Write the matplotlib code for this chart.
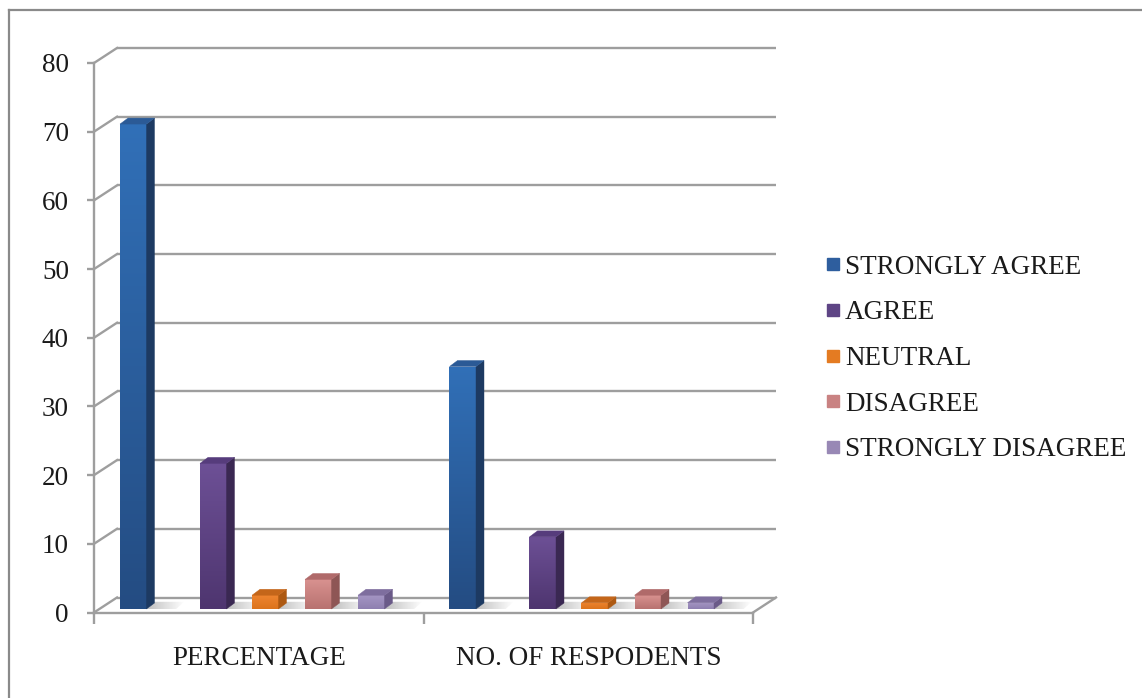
import numpy as np
import matplotlib
matplotlib.use("Agg")
import matplotlib.pyplot as plt
from matplotlib.patches import Polygon, Rectangle
from matplotlib.lines import Line2D
from matplotlib.colors import to_rgb

# ---- data -------------------------------------------------------------
categories = ["PERCENTAGE", "NO. OF RESPODENTS"]
series_names = ["STRONGLY AGREE", "AGREE", "NEUTRAL", "DISAGREE", "STRONGLY DISAGREE"]
percentage = [70.6, 21.2, 2.0, 4.3, 2.0]
respondents = [35.3, 10.5, 0.9, 2.0, 0.9]
y_ticks = [0, 10, 20, 30, 40, 50, 60, 70, 80]

values = np.array([percentage, respondents])  # rows: categories, cols: series

# ---- styling ----------------------------------------------------------
# (front top, front bottom, side, top) per series
face_colors = [
    ("#3170b8", "#244c82", "#1d3a62", "#2b5a96"),
    ("#6d5096", "#4e356f", "#3a2852", "#563c7c"),
    ("#ee8430", "#dc741c", "#ad5912", "#c4661a"),
    ("#d99290", "#b87270", "#8e5655", "#b06a6a"),
    ("#a596c4", "#8e7fb0", "#6a5a88", "#7e6e9e"),
]
legend_colors = ["#2e5e9e", "#5e4585", "#e47b22", "#c98282", "#9888b5"]
grid_color = "#9e9e9e"
text_color = "#1a1a1a"
font = "Liberation Serif"
fs = 19.5

W_PX, H_PX = 1142, 698
fig = plt.figure(figsize=(W_PX / 100, H_PX / 100), dpi=100)

# front plane of the 3-D plot box
ax_left, ax_right, ax_top, ax_bottom = 94, 753, 63, 612.5
ax = fig.add_axes([ax_left / W_PX, 1 - ax_bottom / H_PX,
                   (ax_right - ax_left) / W_PX, (ax_bottom - ax_top) / H_PX])
ax.set_xlim(0, len(categories))
ax.set_ylim(0, 80)
ax.patch.set_alpha(0)

px_x = (ax_right - ax_left) / len(categories)   # pixels per category unit
px_y = (ax_bottom - ax_top) / 80                 # pixels per value unit

# wall depth offset and bar depth offset (category units, value units)
FDX, FDY = 23 / px_x, 15 / px_y
BDX, BDY = 8 / px_x, 6 / px_y
BASE = 3.5 / px_y
BAR_W = 26.5 / px_x
offsets = [-125.5 / px_x, -45.5 / px_x, 6.5 / px_x, 59.5 / px_x, 112.5 / px_x]

lw = 1.7
# back wall gridlines and their connectors to the value axis
for t in y_ticks:
    ax.plot([FDX, len(categories) + FDX], [t + FDY, t + FDY], color=grid_color,
            lw=lw, clip_on=False, zorder=1, solid_capstyle="butt")
    ax.plot([0, FDX], [t, t + FDY], color=grid_color, lw=lw, clip_on=False, zorder=1)
# floor right edge
ax.plot([len(categories), len(categories) + FDX], [0, FDY], color=grid_color,
        lw=lw, clip_on=False, zorder=1)

# ---- bars --------------------------------------------------------------
grad = np.linspace(0, 1, 256).reshape(-1, 1)
for c in range(len(categories)):
    for s in range(len(series_names)):
        v = values[c, s]
        xc = c + 0.5 + offsets[s]
        x0, x1 = xc - BAR_W / 2, xc + BAR_W / 2
        ftop, fbot, side, top = face_colors[s]

        # soft shadow on the floor
        shadow = Polygon([(x1, BASE), (x1 + 0.09, BASE), (x1 + 0.09 + BDX, BASE + BDY * 1.2),
                          (x1 + BDX, BASE + BDY * 1.2)], closed=True, facecolor="none",
                         edgecolor="none", transform=ax.transData)
        ax.add_patch(shadow)
        sh = np.linspace(0.55, 0, 128).reshape(1, -1)
        im = ax.imshow(np.dstack([np.full((1, 128), 0.55)] * 3 + [sh]),
                       extent=(x1, x1 + 0.09 + BDX, BASE, BASE + BDY * 1.2),
                       aspect="auto", zorder=2, interpolation="bilinear")
        im.set_clip_path(shadow)

        # front face with vertical gradient
        front = Rectangle((x0, BASE), BAR_W, v, facecolor="none", edgecolor="none", zorder=3)
        ax.add_patch(front)
        c_top, c_bot = np.array(to_rgb(ftop)), np.array(to_rgb(fbot))
        img = c_top[None, None, :] * (1 - grad[:, :, None]) + c_bot[None, None, :] * grad[:, :, None]
        im = ax.imshow(img, extent=(x0, x1, BASE, BASE + v), origin="upper",
                       aspect="auto", zorder=3, interpolation="bilinear")
        im.set_clip_path(front)

        # right side face
        ax.add_patch(Polygon([(x1, BASE), (x1 + BDX, BASE + BDY), (x1 + BDX, BASE + v + BDY),
                              (x1, BASE + v)], closed=True, facecolor=side,
                             edgecolor=side, lw=0.3, zorder=3, clip_on=False))
        # top face
        ax.add_patch(Polygon([(x0, BASE + v), (x1, BASE + v), (x1 + BDX, BASE + v + BDY),
                              (x0 + BDX, BASE + v + BDY)], closed=True, facecolor=top,
                             edgecolor=top, lw=0.3, zorder=3, clip_on=False))

ax.set_xlim(0, len(categories))
ax.set_ylim(0, 80)

# ---- axes ----------------------------------------------------------------
for sp in ("top", "right"):
    ax.spines[sp].set_visible(False)
for sp in ("left", "bottom"):
    ax.spines[sp].set_color(grid_color)
    ax.spines[sp].set_linewidth(lw)
    ax.spines[sp].set_zorder(4)

ax.set_yticks(y_ticks)
ax.set_yticklabels([str(t) for t in y_ticks], fontfamily=font, fontsize=fs, color=text_color)
ax.tick_params(axis="y", direction="out", length=5, width=lw, color=grid_color, pad=13)

ax.set_xticks(range(len(categories) + 1))
ax.set_xticklabels([])
ax.set_xticks([i + 0.5 for i in range(len(categories))], minor=True)
ax.set_xticklabels(categories, minor=True, fontfamily=font, fontsize=fs, color=text_color)
ax.tick_params(axis="x", which="major", direction="out", length=8, width=lw, color=grid_color)
ax.tick_params(axis="x", which="minor", length=0, pad=24)

# ---- legend --------------------------------------------------------------
handles = [Line2D([], [], linestyle="none", marker="s", markersize=9,
                  markerfacecolor=col, markeredgecolor=col) for col in legend_colors]
fig.legend(handles, series_names, loc="center left",
           bbox_to_anchor=(811 / W_PX, 1 - 358.5 / H_PX), frameon=False,
           prop={"family": font, "size": fs}, labelcolor=text_color,
           handlelength=0.6, handletextpad=0.15, labelspacing=0.76, borderpad=0)

# ---- chart border ----------------------------------------------------------
fig.add_artist(Line2D([8.5 / W_PX, 1], [1 - 10 / H_PX, 1 - 10 / H_PX],
                      transform=fig.transFigure, color="#8a8a8a", lw=1.6))
fig.add_artist(Line2D([8.5 / W_PX, 8.5 / W_PX], [0, 1 - 10 / H_PX],
                      transform=fig.transFigure, color="#8a8a8a", lw=1.6))

fig.savefig("out.png", dpi=100, facecolor="white")
